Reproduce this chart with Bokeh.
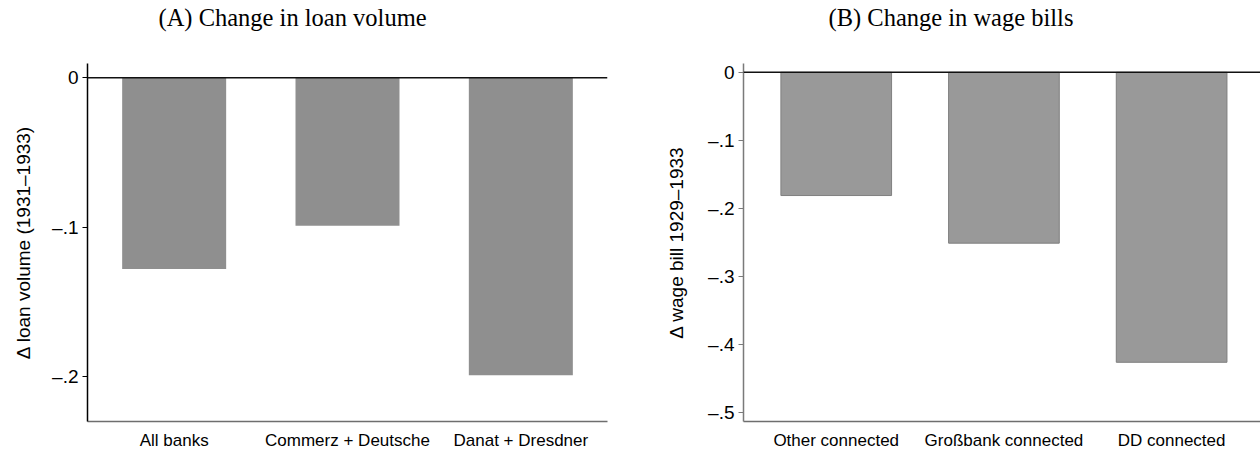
from bokeh.plotting import figure
from bokeh.layouts import row
from bokeh.models import Range1d, FixedTicker, Span, ColumnDataSource, Title
from bokeh.embed import file_html
from bokeh.resources import INLINE

# ---- data ----
cats_a = ["All banks", "Commerz + Deutsche", "Danat + Dresdner"]
vals_a = [-0.128, -0.099, -0.199]
ticks_a = [0, -0.1, -0.2]
ticklabels_a = ["0", "\u2013.1", "\u2013.2"]

cats_b = ["Other connected", "Gro\u00dfbank connected", "DD connected"]
vals_b = [-0.181, -0.251, -0.426]
ticks_b = [0, -0.1, -0.2, -0.3, -0.4, -0.5]
ticklabels_b = ["0", "\u2013.1", "\u2013.2", "\u2013.3", "\u2013.4", "\u2013.5"]

TITLE_FONT = "Liberation Serif"
SANS = "Liberation Sans"


def panel(title, cats, vals, ticks, ticklabels, ylabel, width, left, right_border,
          xr, yr, bar_w, fill, line, yaxis_color, title_offset, label_standoff):
    p = figure(width=width, height=452, output_backend="svg", toolbar_location=None,
               x_range=Range1d(*xr), y_range=Range1d(*yr),
               min_border_left=left, min_border_right=right_border,
               min_border_top=63, min_border_bottom=25)
    xs = list(range(1, len(cats) + 1))
    src = ColumnDataSource(dict(x=xs, top=[0] * len(vals), bottom=vals))
    p.vbar(x="x", top="top", bottom="bottom", width=bar_w, source=src,
           fill_color=fill, line_color=line, line_width=1)
    p.add_layout(Span(location=0, dimension="width", line_color="#111111", line_width=1.5))

    # spacer between the title and the plot frame
    p.add_layout(Title(text=" ", text_font_size="1px", standoff=25), "above")

    p.title.text = title
    p.title.text_font = TITLE_FONT
    p.title.text_font_size = "24.5px"
    p.title.text_font_style = "normal"
    p.title.text_color = "black"
    p.title.align = "left"
    p.title.vertical_align = "top"
    p.title.offset = title_offset
    p.title.standoff = 6

    p.outline_line_color = None
    p.xgrid.visible = False
    p.ygrid.visible = False
    p.background_fill_color = "white"
    p.border_fill_color = "white"

    ya = p.yaxis[0]
    ya.ticker = FixedTicker(ticks=ticks)
    ya.major_label_overrides = {t: l for t, l in zip(ticks, ticklabels)}
    ya.minor_tick_line_color = None
    ya.major_tick_in = 0
    ya.major_tick_out = 5
    ya.axis_line_color = yaxis_color
    ya.major_tick_line_color = yaxis_color
    ya.axis_line_width = 1.5
    ya.major_label_text_font = SANS
    ya.major_label_text_font_size = "19px"
    ya.major_label_text_color = "black"
    ya.major_label_standoff = 4
    ya.axis_label = ylabel
    ya.axis_label_text_font = SANS
    ya.axis_label_text_font_size = "19px"
    ya.axis_label_text_font_style = "normal"
    ya.axis_label_text_color = "black"
    ya.axis_label_standoff = label_standoff

    xa = p.xaxis[0]
    xa.ticker = FixedTicker(ticks=xs)
    xa.major_label_overrides = {x: c for x, c in zip(xs, cats)}
    xa.minor_tick_line_color = None
    xa.major_tick_line_color = None
    xa.axis_line_color = "#6e6e6e"
    xa.axis_line_width = 1.5
    xa.major_label_text_font = SANS
    xa.major_label_text_font_size = "17px"
    xa.major_label_text_color = "black"
    xa.major_label_standoff = 3
    return p


pa = panel("(A) Change in loan volume", cats_a, vals_a, ticks_a, ticklabels_a,
           "\u0394 loan volume (1931\u20131933)", 640, 87, 33,
           (0.5, 3.5), (-0.230, 0.0096), 0.6, "#8f8f8f", None, "black", 71, 15)
pb = panel("(B) Change in wage bills", cats_b, vals_b, ticks_b, ticklabels_b,
           "\u0394 wage bill 1929\u20131933", 620, 103, 0,
           (0.447, 3.53), (-0.513, 0.013), 0.66, "#999999", "#7f7f7f", "#7a7a7a", 85, 18)

layout = row(pa, pb)
open("out.html", "w").write(file_html(layout, INLINE))
